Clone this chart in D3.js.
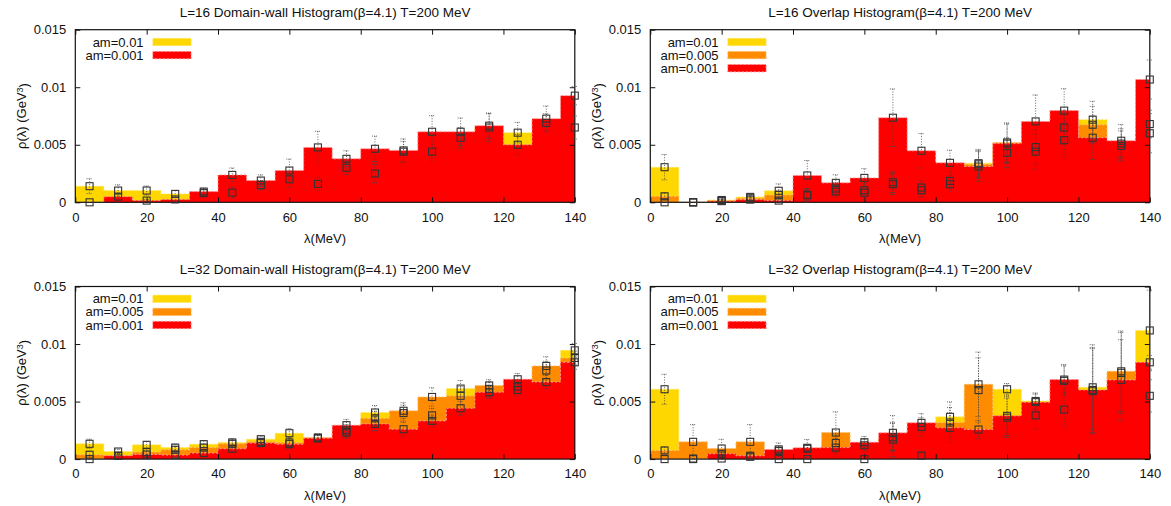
<!DOCTYPE html>
<html>
<head>
<meta charset="utf-8">
<script src="https://cdn.jsdelivr.net/npm/d3@7/dist/d3.min.js"></script>
<style>
  html, body { margin: 0; padding: 0; background: #fff; }
  svg { display: block; font-family: "Liberation Sans", Arial, sans-serif; }
</style>
</head>
<body>
<svg id="chart" width="1171" height="506"></svg>
<script>
// Eigenvalue bins (MeV): 8 MeV wide, centres listed
const binCenters = [4, 12, 20, 28, 36, 44, 52, 60, 68, 76, 84, 92, 100, 108, 116, 124, 132, 140];
const binWidth = 8;
const xTicks = [0, 20, 40, 60, 80, 100, 120, 140];
const yTicks = [0, 0.005, 0.01, 0.015];
const yTickLabels = ["0", "0.005", "0.01", "0.015"];

const titles = [
  "L=16 Domain-wall Histogram(\u03b2=4.1) T=200 MeV",
  "L=16 Overlap Histogram(\u03b2=4.1) T=200 MeV",
  "L=32 Domain-wall Histogram(\u03b2=4.1) T=200 MeV",
  "L=32 Overlap Histogram(\u03b2=4.1) T=200 MeV"
];
const massLabels = ["am=0.01", "am=0.005", "am=0.001"];

// L=16 domain-wall
const dw16_am01      = [0.0014, 0.00102, 0.00102, 0.00073, 0.0008, 0.00084, 0.0015, 0.002, 0.0016, 0.003, 0.0025, 0.0044, 0.0044, 0.0056, 0.0065, 0.00605, 0.0069, 0.0065];
const dw16_am01_err  = [0.00065, 0.0005, 0.0004, 0.0003, 0.0003, 0.0005, 0.0004, 0.0007, 0.0006, 0.0006, 0.0008, 0.0009, 0.0009, 0.0009, 0.0012, 0.0009, 0.0008, 0.001];
const dw16_am0001     = [0, 0.00049, 0.00015, 0.00025, 0.00093, 0.00238, 0.00189, 0.00276, 0.00477, 0.00378, 0.00465, 0.00451, 0.00613, 0.00613, 0.00666, 0.005, 0.00727, 0.00927];
const dw16_am0001_err = [0, 0.0003, 0.0001, 0.0002, 0.0003, 0.0006, 0.0005, 0.001, 0.0014, 0.0007, 0.0011, 0.001, 0.0014, 0.0012, 0.0011, 0.0009, 0.0011, 0.0008];

// L=16 overlap
const ov16_am01       = [0.00305, 0, 0.0002, 0.00047, 0.001, 0.0006, 0.0012, 0.00105, 0.00174, 0.00128, 0.00186, 0.0034, 0.0043, 0.0048, 0.0065, 0.00718, 0.0051, 0.0068];
const ov16_am01_err   = [0.0011, 0, 0.0001, 0.0002, 0.0006, 0.0006, 0.0005, 0.0006, 0.0009, 0.0006, 0.0008, 0.0012, 0.0013, 0.0015, 0.0015, 0.0016, 0.0013, 0.0012];
const ov16_am005      = [0.00052, 0, 0.00015, 0.00035, 0.00064, 0.00065, 0.00093, 0.00084, 0.00157, 0.00105, 0.00157, 0.0033, 0.0052, 0.0044, 0.0054, 0.00674, 0.0049, 0.006];
const ov16_am005_err  = [0.0003, 0, 0.0001, 0.0002, 0.0004, 0.0005, 0.0005, 0.0006, 0.0009, 0.0006, 0.0008, 0.0012, 0.0017, 0.0015, 0.0015, 0.0016, 0.0013, 0.0017];
const ov16_am0001     = [0, 0, 0.0001, 0.00023, 0.00015, 0.00233, 0.00169, 0.00212, 0.00735, 0.00448, 0.00343, 0.00311, 0.0051, 0.00703, 0.00797, 0.00561, 0.00535, 0.01067];
const ov16_am0001_err = [0, 0, 0.0001, 0.0002, 0.0002, 0.0013, 0.0007, 0.0008, 0.0025, 0.0015, 0.0011, 0.0013, 0.0017, 0.0023, 0.0019, 0.0019, 0.0014, 0.0017];

// L=32 domain-wall
const dw32_am01       = [0.00133, 0.00066, 0.00124, 0.001, 0.0013, 0.00145, 0.00173, 0.00225, 0.0018, 0.0025, 0.00405, 0.004, 0.0038, 0.00613, 0.0061, 0.0063, 0.0077, 0.00945];
const dw32_am01_err   = [0.0004, 0.0002, 0.0003, 0.0003, 0.0003, 0.0003, 0.0003, 0.0004, 0.0003, 0.0005, 0.0006, 0.0007, 0.0006, 0.0007, 0.0006, 0.0006, 0.0008, 0.0006];
const dw32_am005      = [0.00038, 0.00028, 0.00061, 0.00081, 0.001, 0.00133, 0.0015, 0.00145, 0.00188, 0.0023, 0.00355, 0.0042, 0.0054, 0.0055, 0.0064, 0.006, 0.0081, 0.00879];
const dw32_am005_err  = [0.0003, 0.0002, 0.0003, 0.0003, 0.0003, 0.0003, 0.0003, 0.0004, 0.0003, 0.0005, 0.0006, 0.0007, 0.0008, 0.0008, 0.0005, 0.0005, 0.0008, 0.0006];
const dw32_am0001     = [0, 0.0003, 0.0004, 0.00035, 0.00052, 0.0009, 0.00139, 0.0013, 0.00182, 0.00295, 0.00306, 0.0026, 0.00332, 0.00442, 0.00581, 0.00694, 0.0067, 0.00841];
const dw32_am0001_err = [0, 0.0002, 0.0003, 0.0002, 0.0003, 0.0003, 0.0003, 0.0004, 0.0003, 0.0005, 0.0006, 0.0006, 0.0005, 0.0006, 0.0005, 0.0005, 0.0006, 0.0006];

// L=32 overlap
const ov32_am01       = [0.00607, 0.00005, 0.00005, 0.0002, 0, 0, 0.0014, 0, 0.0019, 0.0003, 0.00367, 0.006, 0.00607, 0.00505, 0.0068, 0.00624, 0.0075, 0.01118];
const ov32_am01_err   = [0.0013, 0, 0, 0.0002, 0, 0, 0.0008, 0, 0.0012, 0.0003, 0.0013, 0.0028, 0.0005, 0.0007, 0.0013, 0.0037, 0.0035, 0.0035];
const ov32_am005      = [0.00075, 0.0015, 0.00092, 0.0015, 0.0007, 0.0009, 0.00231, 0.0012, 0.0017, 0.0028, 0.00318, 0.0065, 0.0036, 0.0038, 0.0043, 0.0059, 0.00763, 0.0055];
const ov32_am005_err  = [0.0003, 0.0015, 0.0008, 0.0015, 0.0007, 0.0008, 0.0018, 0.0005, 0.0015, 0.0008, 0.0013, 0.0028, 0.0017, 0.0012, 0.0015, 0.0037, 0.0035, 0.0014];
const ov32_am0001     = [0, 0, 0.00046, 0.00029, 0.00084, 0.00098, 0.001, 0.00147, 0.00228, 0.00315, 0.00272, 0.00257, 0.00376, 0.00495, 0.00691, 0.00601, 0.00688, 0.00841];
const ov32_am0001_err = [0, 0, 0.0003, 0.0003, 0.0003, 0.0003, 0.0008, 0.0005, 0.0015, 0.0008, 0.0013, 0.0008, 0.0017, 0.0007, 0.0013, 0.0037, 0.0035, 0.0006];

// Fill and dashed-border colours per quark mass
const massStyles = {
  "am=0.01":  { fill: "#ffd700", edge: "#ffe866" },
  "am=0.005": { fill: "#ff8c00", edge: "#ffc27a" },
  "am=0.001": { fill: "#ff0000", edge: "#ff9a9a" }
};

const panels = [
  { title: titles[0], col: 0, row: 0, series: [
      { label: massLabels[0], values: dw16_am01, errors: dw16_am01_err },
      { label: massLabels[2], values: dw16_am0001, errors: dw16_am0001_err } ] },
  { title: titles[1], col: 1, row: 0, series: [
      { label: massLabels[0], values: ov16_am01, errors: ov16_am01_err },
      { label: massLabels[1], values: ov16_am005, errors: ov16_am005_err },
      { label: massLabels[2], values: ov16_am0001, errors: ov16_am0001_err } ] },
  { title: titles[2], col: 0, row: 1, series: [
      { label: massLabels[0], values: dw32_am01, errors: dw32_am01_err },
      { label: massLabels[1], values: dw32_am005, errors: dw32_am005_err },
      { label: massLabels[2], values: dw32_am0001, errors: dw32_am0001_err } ] },
  { title: titles[3], col: 1, row: 1, series: [
      { label: massLabels[0], values: ov32_am01, errors: ov32_am01_err },
      { label: massLabels[1], values: ov32_am005, errors: ov32_am005_err },
      { label: massLabels[2], values: ov32_am0001, errors: ov32_am0001_err } ] }
];

// Layout
const plotLeft = 75.3, plotTop = 29.7, plotW = 499.5, plotH = 172.6;
const colStep = 575, rowStep = 256.8;
const fontSize = 13;
const titleSize = 13.5;

const svg = d3.select("#chart");

panels.forEach((p, pi) => {
  const g = svg.append("g")
    .attr("transform", `translate(${plotLeft + p.col * colStep},${plotTop + p.row * rowStep})`);

  const x = d3.scaleLinear().domain([0, 140]).range([0, plotW]);
  const y = d3.scaleLinear().domain([0, 0.015]).range([plotH, 0]);

  const clipId = "clip" + pi;
  g.append("clipPath").attr("id", clipId)
    .append("rect").attr("x", 0).attr("y", 0).attr("width", plotW).attr("height", plotH);

  const plot = g.append("g").attr("clip-path", `url(#${clipId})`);

  // Step-shaped histogram outline for one series
  const stepPoints = vals => {
    const pts = binCenters.map((c, i) => [c - binWidth / 2, vals[i]]);
    pts.push([binCenters[binCenters.length - 1] + binWidth / 2, vals[vals.length - 1]]);
    return pts;
  };
  const area = d3.area().curve(d3.curveStepAfter)
    .x(d => x(d[0])).y0(y(0)).y1(d => y(d[1]));
  const line = d3.line().curve(d3.curveStepAfter)
    .x(d => x(d[0])).y(d => y(d[1]));

  p.series.forEach(s => {
    const st = massStyles[s.label];
    const pts = stepPoints(s.values);
    plot.append("path").attr("d", area(pts)).attr("fill", st.fill);
    plot.append("path").attr("d", line(pts))
      .attr("fill", "none").attr("stroke", st.edge)
      .attr("stroke-width", 1).attr("stroke-dasharray", "2,2");
  });

  // Ticks (inward, mirrored on all sides)
  const tickLen = 5;
  const yAxis = d3.axisLeft(y).tickValues(yTicks)
    .tickFormat((d, i) => yTickLabels[i]).tickSizeInner(-tickLen).tickSizeOuter(0).tickPadding(9);
  const yAxisR = d3.axisRight(y).tickValues(yTicks).tickFormat("").tickSizeInner(-tickLen).tickSizeOuter(0);
  const xAxis = d3.axisBottom(x).tickValues(xTicks).tickFormat(d3.format("d"))
    .tickSizeInner(-tickLen).tickSizeOuter(0).tickPadding(10);
  const xAxisT = d3.axisTop(x).tickValues(xTicks).tickFormat("").tickSizeInner(-tickLen).tickSizeOuter(0);

  const styleAxis = sel => {
    sel.select(".domain").remove();
    sel.selectAll("line").attr("stroke", "#111").attr("stroke-width", 1);
    sel.selectAll("text").attr("fill", "#111").style("font-size", fontSize + "px")
      .style("font-family", '"Liberation Sans", Arial, sans-serif');
  };
  g.append("g").call(yAxis).call(styleAxis);
  g.append("g").attr("transform", `translate(${plotW},0)`).call(yAxisR).call(styleAxis);
  g.append("g").attr("transform", `translate(0,${plotH})`).call(xAxis).call(styleAxis);
  g.append("g").call(xAxisT).call(styleAxis);

  // Frame
  g.append("rect").attr("x", 0).attr("y", 0).attr("width", plotW).attr("height", plotH)
    .attr("fill", "none").attr("stroke", "#111").attr("stroke-width", 1.2);

  // Error bars and markers, drawn over all histograms
  const marks = g.append("g");
  const capHalf = 3;
  p.series.forEach(s => {
    binCenters.forEach((c, i) => {
      const v = s.values[i], e = s.errors[i];
      const cx = x(c);
      if (e > 0) {
        const yTop = y(v + e), yBot = y(Math.max(0, v - e));
        marks.append("line").attr("x1", cx).attr("x2", cx).attr("y1", yTop).attr("y2", yBot)
          .attr("stroke", "#444").attr("stroke-width", 1).attr("stroke-dasharray", "1,1.6")
          .attr("opacity", 0.8);
        [yTop, yBot].forEach(yy => {
          marks.append("line").attr("x1", cx - capHalf).attr("x2", cx + capHalf)
            .attr("y1", yy).attr("y2", yy)
            .attr("stroke", "#444").attr("stroke-width", 1).attr("stroke-dasharray", "1,1")
            .attr("opacity", 0.8);
        });
      }
      marks.append("rect").attr("x", cx - 3.5).attr("y", y(v) - 3.5)
        .attr("width", 7).attr("height", 7)
        .attr("fill", "none").attr("stroke", "#333").attr("stroke-width", 1.1);
    });
  });

  // Legend (top left, labels right-aligned before colour swatches)
  const leg = g.append("g");
  p.series.forEach((s, i) => {
    const st = massStyles[s.label];
    const cy = 12.3 + i * 13.1;
    leg.append("text").attr("x", 68.3).attr("y", cy).attr("dy", "0.35em")
      .attr("text-anchor", "end").attr("fill", "#111").style("font-size", fontSize + "px")
      .text(s.label);
    leg.append("rect").attr("x", 77.5).attr("y", cy - 3.7).attr("width", 38.3).attr("height", 7.4)
      .attr("fill", st.fill).attr("stroke", st.edge).attr("stroke-width", 1)
      .attr("stroke-dasharray", "2,2");
  });

  // Titles and axis labels
  g.append("text").attr("x", plotW / 2).attr("y", -12.5)
    .attr("text-anchor", "middle").attr("fill", "#111").style("font-size", titleSize + "px")
    .text(p.title);

  g.append("text").attr("x", plotW / 2).attr("y", plotH + 40.5)
    .attr("text-anchor", "middle").attr("fill", "#111").style("font-size", fontSize + "px")
    .text("\u03bb(MeV)");

  const yl = g.append("text")
    .attr("transform", `translate(-49,${plotH / 2}) rotate(-90)`)
    .attr("text-anchor", "middle").attr("fill", "#111").style("font-size", fontSize + "px");
  yl.append("tspan").text("\u03c1(\u03bb)  (GeV");
  yl.append("tspan").attr("dy", "-0.4em").style("font-size", "9px").text("3");
  yl.append("tspan").attr("dy", "0.4em").text(")");
});
</script>
</body>
</html>
